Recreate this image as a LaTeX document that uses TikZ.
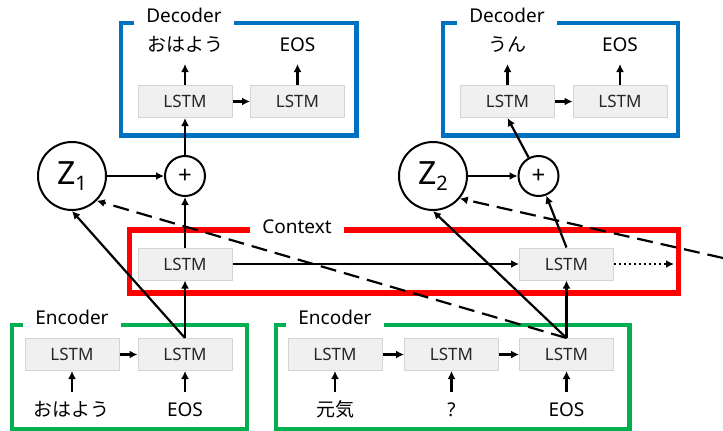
\documentclass[tikz,border=0pt]{standalone}
\usepackage{fontspec}
\setmainfont{Noto Sans}
\newfontfamily\jp{Noto Sans CJK JP}
\usetikzlibrary{positioning,arrows.meta}
\definecolor{decblue}{RGB}{0,112,192}
\definecolor{ctxred}{RGB}{255,0,0}
\definecolor{encgreen}{RGB}{0,176,80}
\definecolor{cellfill}{RGB}{240,240,240}
\definecolor{celledge}{RGB}{212,212,212}
\tikzset{
  lstm/.style={draw=celledge, fill=cellfill, line width=1pt, minimum width=94pt, minimum height=32pt, inner sep=0pt, text=black!85, font=\fontsize{17}{20}\selectfont},
  word/.style={inner sep=0pt, text height=14pt, text depth=3pt, font=\fontsize{19}{22}\selectfont},
  jword/.style={word, font=\jp\fontsize{19}{22}\selectfont},
  latent/.style={circle, draw, line width=2pt, minimum size=68pt, inner sep=0pt},
  sumnode/.style={circle, draw, line width=2pt, minimum size=40pt, inner sep=0pt, font=\fontsize{24}{24}\selectfont},
  tag/.style={fill=white, inner xsep=12pt, inner ysep=3pt, text height=14pt, text depth=4pt, anchor=base, font=\fontsize{19}{22}\selectfont},
  link/.style={-{Latex[length=8pt,width=8pt]}, line width=2.2pt},
  longdash/.style={dash pattern=on 16pt off 8pt},
}
\begin{document}
\begin{tikzpicture}[x=1pt, y=-1pt]
\useasboundingbox (0,0) rectangle (723,431);
% frames
\draw[decblue, line width=4.5pt] (121,23) rectangle (356.5,135.5);
\draw[decblue, line width=4.5pt] (443,23) rectangle (678,135.5);
\draw[ctxred, line width=5.5pt] (129.5,230) rectangle (678.5,293);
\draw[encgreen, line width=4.5pt] (12,325) rectangle (247,429);
\draw[encgreen, line width=4.5pt] (276,325) rectangle (629.5,429);
\node[tag] (declab1) at (184,22) {Decoder};
\node[tag] (declab2) at (507,22) {Decoder};
\node[tag] (ctxlab) at (297,233) {Context};
\node[tag] (enclab1) at (72,324) {Encoder};
\node[tag] (enclab2) at (335,324) {Encoder};
% cells
\node[lstm] (dec1a) at (185,101.5) {LSTM};
\node[lstm] (dec1b) at (297.5,101.5) {LSTM};
\node[lstm] (dec2a) at (507.5,101.5) {LSTM};
\node[lstm] (dec2b) at (620,101.5) {LSTM};
\node[lstm] (ctx1) at (185,264) {LSTM};
\node[lstm] (ctx2) at (566.5,264) {LSTM};
\node[lstm] (enc1a) at (72,354.5) {LSTM};
\node[lstm] (enc1b) at (185,354.5) {LSTM};
\node[lstm] (enc2a) at (335,354.5) {LSTM};
\node[lstm] (enc2b) at (451.5,354.5) {LSTM};
\node[lstm] (enc2c) at (566.5,354.5) {LSTM};
% words
\node[jword] (out1a) [above=30pt of dec1a] {おはよう};
\node[word] (out1b) [above=30pt of dec1b] {EOS};
\node[jword] (out2a) [above=30pt of dec2a] {うん};
\node[word] (out2b) [above=30pt of dec2b] {EOS};
\node[jword] (in1a) [below=31pt of enc1a] {おはよう};
\node[word] (in1b) [below=31pt of enc1b] {EOS};
\node[jword] (in2a) [below=31pt of enc2a] {元気};
\node[word] (in2b) [below=31pt of enc2b] {?};
\node[word] (in2c) [below=31pt of enc2c] {EOS};
% latent and sum
\node[latent] (z1) at (72,176) {{\fontsize{32}{32}\selectfont Z}\raisebox{-6pt}{\fontsize{20}{20}\selectfont 1}};
\node[latent] (z2) at (433,176) {{\fontsize{32}{32}\selectfont Z}\raisebox{-6pt}{\fontsize{20}{20}\selectfont 2}};
\node[sumnode] (plus1) at (185,176) {+};
\node[sumnode] (plus2) at (538.5,176) {+};
\coordinate (ctxend) at (674,264);
\coordinate (nextenc) at (723,258);
% connectors
\draw[link] (dec1a) -- (dec1b);
\draw[link] (dec2a) -- (dec2b);
\draw[link] (enc1a) -- (enc1b);
\draw[link] (enc2a) -- (enc2b);
\draw[link] (enc2b) -- (enc2c);
\draw[link, shorten >=9pt] (dec1a.north) -- (out1a.south);
\draw[link, shorten >=9pt] (dec1b.north) -- (out1b.south);
\draw[link, shorten >=9pt] (dec2a.north) -- (out2a.south);
\draw[link, shorten >=9pt] (dec2b.north) -- (out2b.south);
\draw[link, shorten <=10pt] (in1a.north) -- (enc1a.south);
\draw[link, shorten <=10pt] (in1b.north) -- (enc1b.south);
\draw[link, shorten <=10pt] (in2a.north) -- (enc2a.south);
\draw[link, shorten <=10pt] (in2b.north) -- (enc2b.south);
\draw[link, shorten <=10pt] (in2c.north) -- (enc2c.south);
\draw[link] (ctx1) -- (ctx2);
\draw[link, dash pattern=on 2pt off 3pt] (ctx2) -- (ctxend);
\draw[link] (enc1b.north) -- (ctx1);
\draw[link] (enc2c.north) -- (ctx2);
\draw[link] (enc1b.north) -- (z1.south);
\draw[link] (enc2c.north) -- (z2.south);
\draw[link, longdash] (enc2c.north) -- (z1.-45);
\draw[link, longdash] (nextenc) -- (z2.-40);
\draw[link] (ctx1) -- (plus1);
\draw[link] (ctx2.north) -- (plus2);
\draw[link] (z1) -- (plus1);
\draw[link] (z2) -- (plus2);
\draw[link] (plus1) -- (dec1a);
\draw[link] (plus2) -- (dec2a.south);
\end{tikzpicture}
\end{document}
